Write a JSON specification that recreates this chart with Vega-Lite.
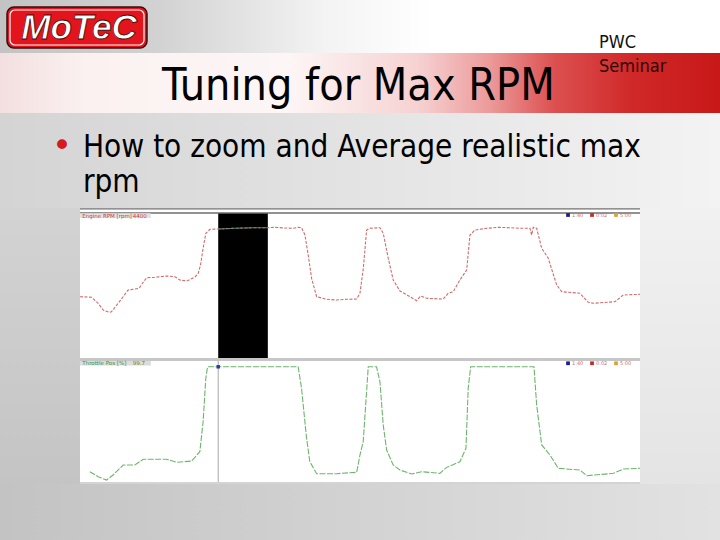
{
  "$schema": "https://vega.github.io/schema/vega-lite/v6.json",
  "padding": 0,
  "spacing": 0,
  "background": "#d0d0d0",
  "config": {
    "view": {"stroke": null},
    "concat": {"spacing": 0},
    "axis": {"labels": false, "ticks": false, "domain": false, "grid": true, "gridColor": "#d9d9d9", "gridWidth": 1, "minExtent": 0, "maxExtent": 0}
  },
  "datasets": {
    "rpm": [
      {"t": 99.1, "rpm": 2890}, {"t": 100.09, "rpm": 2876}, {"t": 100.65, "rpm": 2740}, {"t": 101.08, "rpm": 2588},
      {"t": 101.59, "rpm": 2536}, {"t": 101.79, "rpm": 2549}, {"t": 102.36, "rpm": 2740}, {"t": 102.79, "rpm": 2889},
      {"t": 103.21, "rpm": 3041}, {"t": 103.79, "rpm": 3064}, {"t": 104.15, "rpm": 3080}, {"t": 104.5, "rpm": 3216},
      {"t": 104.79, "rpm": 3320}, {"t": 105.5, "rpm": 3329}, {"t": 106.5, "rpm": 3359}, {"t": 107.21, "rpm": 3343},
      {"t": 107.63, "rpm": 3268}, {"t": 108.21, "rpm": 3245}, {"t": 108.91, "rpm": 3329}, {"t": 109.2, "rpm": 3420},
      {"t": 109.4, "rpm": 3608}, {"t": 109.62, "rpm": 3987}, {"t": 109.85, "rpm": 4327}, {"t": 110.2, "rpm": 4417},
      {"t": 110.91, "rpm": 4424}, {"t": 111.48, "rpm": 4431}, {"t": 112.33, "rpm": 4440}, {"t": 113.19, "rpm": 4447},
      {"t": 114.04, "rpm": 4453}, {"t": 115.15, "rpm": 4453}, {"t": 115.75, "rpm": 4462}, {"t": 116.61, "rpm": 4447},
      {"t": 117.32, "rpm": 4440}, {"t": 117.72, "rpm": 4462}, {"t": 118.03, "rpm": 4453}, {"t": 118.32, "rpm": 4288},
      {"t": 118.6, "rpm": 3835}, {"t": 118.89, "rpm": 3307}, {"t": 119.32, "rpm": 2889}, {"t": 120.17, "rpm": 2831},
      {"t": 121.03, "rpm": 2815}, {"t": 121.88, "rpm": 2831}, {"t": 122.74, "rpm": 2837}, {"t": 123.02, "rpm": 2967},
      {"t": 123.31, "rpm": 3533}, {"t": 123.59, "rpm": 4401}, {"t": 123.87, "rpm": 4440}, {"t": 124.73, "rpm": 4453},
      {"t": 125.01, "rpm": 4327}, {"t": 125.44, "rpm": 3760}, {"t": 125.86, "rpm": 3268}, {"t": 126.44, "rpm": 3019},
      {"t": 127.15, "rpm": 2912}, {"t": 127.86, "rpm": 2799}, {"t": 128.21, "rpm": 2905}, {"t": 128.72, "rpm": 2853},
      {"t": 130.14, "rpm": 2837}, {"t": 130.56, "rpm": 2967}, {"t": 130.99, "rpm": 3003}, {"t": 131.56, "rpm": 3268},
      {"t": 132.14, "rpm": 3495}, {"t": 132.42, "rpm": 4288}, {"t": 132.85, "rpm": 4401}, {"t": 133.85, "rpm": 4440},
      {"t": 134.81, "rpm": 4462}, {"t": 135.84, "rpm": 4453}, {"t": 136.7, "rpm": 4440}, {"t": 137.55, "rpm": 4440},
      {"t": 137.69, "rpm": 4288}, {"t": 137.83, "rpm": 4462}, {"t": 138.12, "rpm": 4440}, {"t": 138.55, "rpm": 3987},
      {"t": 139.11, "rpm": 3760}, {"t": 139.83, "rpm": 3155}, {"t": 140.26, "rpm": 3003}, {"t": 141.82, "rpm": 2967},
      {"t": 142.53, "rpm": 2763}, {"t": 142.96, "rpm": 2740}, {"t": 144.81, "rpm": 2776}, {"t": 145.52, "rpm": 2928},
      {"t": 146.95, "rpm": 2944}
    ],
    "throttle": [
      {"t": 99.94, "thr": 10.5}, {"t": 100.65, "thr": 6.2}, {"t": 101.37, "thr": 3.4}, {"t": 101.93, "thr": 7.7},
      {"t": 102.79, "thr": 16.2}, {"t": 103.79, "thr": 16.2}, {"t": 104.5, "thr": 21.1}, {"t": 106.5, "thr": 21.1},
      {"t": 107.35, "thr": 18.5}, {"t": 108.63, "thr": 19.6}, {"t": 109.34, "thr": 27.6}, {"t": 109.62, "thr": 53.2},
      {"t": 109.85, "thr": 90.2}, {"t": 110.0, "thr": 100}, {"t": 117.74, "thr": 100}, {"t": 118.03, "thr": 81.7},
      {"t": 118.46, "thr": 39.0}, {"t": 118.74, "thr": 19.0}, {"t": 119.32, "thr": 8.8}, {"t": 121.03, "thr": 8.8},
      {"t": 122.74, "thr": 10.0}, {"t": 123.02, "thr": 24.7}, {"t": 123.3, "thr": 36.1}, {"t": 123.73, "thr": 100},
      {"t": 124.44, "thr": 100}, {"t": 124.73, "thr": 87.3}, {"t": 125.01, "thr": 50.3}, {"t": 125.3, "thr": 29.0},
      {"t": 125.86, "thr": 16.2}, {"t": 126.44, "thr": 11.9}, {"t": 127.44, "thr": 8.5}, {"t": 128.29, "thr": 10.5},
      {"t": 129.85, "thr": 9.1}, {"t": 130.43, "thr": 14.2}, {"t": 131.56, "thr": 19.0}, {"t": 132.08, "thr": 30.5},
      {"t": 132.27, "thr": 81.7}, {"t": 132.48, "thr": 100}, {"t": 137.89, "thr": 100}, {"t": 138.12, "thr": 67.4},
      {"t": 138.55, "thr": 33.3}, {"t": 139.26, "thr": 24.7}, {"t": 139.97, "thr": 13.4}, {"t": 141.82, "thr": 11.9},
      {"t": 142.4, "thr": 7.1}, {"t": 144.67, "thr": 9.1}, {"t": 145.52, "thr": 12.8}, {"t": 146.95, "thr": 13.4}
    ],
    "legend": [
      {"k": "a", "lab": "1:40", "t": 140.8},
      {"k": "b", "lab": "0:02", "t": 142.85},
      {"k": "c", "lab": "5:00", "t": 144.9}
    ]
  },
  "vconcat": [
    {
      "width": 720, "height": 53,
      "data": {"values": [{"logo": "MoTeC", "tag": "PWC"}]},
      "layer": [
        {"mark": {"type": "rect", "stroke": null, "fill": {"gradient": "linear", "x1": 0, "y1": 0, "x2": 1, "y2": 0, "stops": [{"offset": 0, "color": "#c3c3c3"}, {"offset": 0.22, "color": "#d2d2d2"}, {"offset": 0.45, "color": "#f3f3f3"}, {"offset": 0.6, "color": "#ffffff"}, {"offset": 1, "color": "#ffffff"}]}}, "encoding": {}},
        {"mark": {"type": "rect", "cornerRadius": 7, "fill": "#e3141b", "stroke": "#3a0c0c", "strokeWidth": 1.5}, "encoding": {"x": {"value": 7}, "x2": {"value": 147}, "y": {"value": 7}, "y2": {"value": 48}}},
        {"mark": {"type": "rect", "cornerRadius": 5, "filled": false, "stroke": "#ffffff", "strokeWidth": 1.2}, "encoding": {"x": {"value": 10}, "x2": {"value": 144}, "y": {"value": 10}, "y2": {"value": 45}}},
        {"mark": {"type": "text", "font": "Liberation Sans", "fontSize": 35, "fontStyle": "italic", "fontWeight": "bold", "fill": "#ffffff", "stroke": "#4a0808", "strokeWidth": 0.8, "align": "center", "baseline": "alphabetic"}, "encoding": {"x": {"value": 79}, "y": {"value": 39}, "text": {"field": "logo"}}},
        {"mark": {"type": "text", "font": "DejaVu Sans Condensed, DejaVu Sans", "fontSize": 18, "color": "#111111", "align": "left", "baseline": "alphabetic"}, "encoding": {"x": {"value": 599}, "y": {"value": 48}, "text": {"field": "tag"}}}
      ]
    },
    {
      "width": 720, "height": 60,
      "data": {"values": [{"title": "Tuning for Max RPM", "tag": "Seminar"}]},
      "layer": [
        {"mark": {"type": "rect", "stroke": null, "fill": {"gradient": "linear", "x1": 0, "y1": 0, "x2": 1, "y2": 0, "stops": [{"offset": 0, "color": "#f3dfdf"}, {"offset": 0.12, "color": "#fbf1f1"}, {"offset": 0.4, "color": "#fdf6f6"}, {"offset": 0.58, "color": "#f6d2d2"}, {"offset": 0.68, "color": "#ec9a9a"}, {"offset": 0.77, "color": "#dc5050"}, {"offset": 0.88, "color": "#d02828"}, {"offset": 1, "color": "#c81818"}]}}, "encoding": {}},
        {"mark": {"type": "text", "font": "DejaVu Sans Condensed, DejaVu Sans", "fontSize": 44.5, "color": "#000000", "align": "left", "baseline": "alphabetic"}, "encoding": {"x": {"value": 162}, "y": {"value": 47}, "text": {"field": "title"}}},
        {"mark": {"type": "text", "font": "DejaVu Sans Condensed, DejaVu Sans", "fontSize": 18, "color": "#2a0808", "align": "left", "baseline": "alphabetic"}, "encoding": {"x": {"value": 599}, "y": {"value": 19}, "text": {"field": "tag"}}}
      ]
    },
    {
      "width": 720, "height": 95,
      "data": {"values": [{"b": "•", "l1": "How to zoom and Average realistic max", "l2": "rpm"}]},
      "layer": [
        {"mark": {"type": "rect", "stroke": null, "fill": {"gradient": "linear", "x1": 0, "y1": 0, "x2": 1, "y2": 0, "stops": [{"offset": 0, "color": "#d4d4d4"}, {"offset": 1, "color": "#f3f3f3"}]}}, "encoding": {}},
        {"mark": {"type": "text", "font": "DejaVu Sans", "fontSize": 34, "color": "#d41c1c", "align": "left", "baseline": "alphabetic"}, "encoding": {"x": {"value": 52}, "y": {"value": 44}, "text": {"field": "b"}}},
        {"mark": {"type": "text", "font": "DejaVu Sans Condensed, DejaVu Sans", "fontSize": 31.2, "color": "#000000", "align": "left", "baseline": "alphabetic"}, "encoding": {"x": {"value": 83}, "y": {"value": 44}, "text": {"field": "l1"}}},
        {"mark": {"type": "text", "font": "DejaVu Sans Condensed, DejaVu Sans", "fontSize": 31.2, "color": "#000000", "align": "left", "baseline": "alphabetic"}, "encoding": {"x": {"value": 83}, "y": {"value": 79}, "text": {"field": "l2"}}}
      ]
    },
    {
      "spacing": 0,
      "bounds": "flush",
      "hconcat": [
        {"width": 80, "height": 150, "data": {"values": [{}]}, "mark": {"type": "rect", "stroke": null, "fill": {"gradient": "linear", "x1": 0, "y1": 0, "x2": 0, "y2": 1, "stops": [{"offset": 0, "color": "#d3d3d3"}, {"offset": 1, "color": "#cbcbcb"}]}}, "encoding": {}},
        {
          "width": 560, "height": 150,
          "view": {"fill": "#ffffff", "stroke": null},
          "layer": [
            {
              "data": {"values": [{"start": 110.91, "end": 115.15}]},
              "mark": {"type": "rect", "color": "#000000", "clip": true},
              "encoding": {
                "x": {"field": "start", "type": "quantitative", "scale": {"domain": [99.1, 146.95], "nice": false, "zero": false}, "axis": null},
                "x2": {"field": "end"},
                "y": {"datum": 4787, "scale": {"domain": [1500, 4900], "nice": false, "zero": false}, "axis": null},
                "y2": {"datum": 1500}
              }
            },
            {
              "data": {"name": "rpm"},
              "mark": {"type": "line", "color": "#d46a6a", "strokeWidth": 1.1, "strokeDash": [3, 1.5], "clip": true},
              "encoding": {
                "x": {"field": "t", "type": "quantitative", "scale": {"domain": [99.1, 146.95], "nice": false, "zero": false}, "axis": {"title": null, "values": [100, 102, 104, 106, 108, 110, 112, 114, 116, 118, 120, 122, 124, 126, 128, 130, 132, 134, 136, 138, 140, 142, 144, 146]}},
                "y": {"field": "rpm", "type": "quantitative", "scale": {"domain": [1500, 4900], "nice": false, "zero": false}, "axis": {"title": null, "values": [1798.8, 2097.6, 2396.4, 2695.2, 2994, 3292.8, 3591.6, 3890.4, 4189.2, 4488]}}
              }
            },
            {
              "data": {"name": "rpm"},
              "transform": [{"filter": "datum.t >= 110.91 && datum.t <= 115.15"}],
              "mark": {"type": "line", "color": "#4a9a88", "strokeWidth": 1.1, "strokeDash": [3, 1.5], "clip": true},
              "encoding": {
                "x": {"field": "t", "type": "quantitative", "scale": {"domain": [99.1, 146.95], "nice": false, "zero": false}, "axis": null},
                "y": {"field": "rpm", "type": "quantitative", "scale": {"domain": [1500, 4900], "nice": false, "zero": false}, "axis": null}
              }
            },
            {
              "data": {"values": [{"edge": 4882}, {"edge": 4787}]},
              "mark": {"type": "rule", "color": "#6e6e6e", "strokeWidth": 1.3, "clip": true},
              "encoding": {"y": {"field": "edge", "type": "quantitative", "axis": null}}
            },
            {
              "data": {"values": [{}]},
              "mark": {"type": "rect", "color": "#e2e2e2", "clip": true},
              "encoding": {"x": {"datum": 99.1, "axis": null}, "x2": {"datum": 105.15}, "y": {"datum": 4780, "axis": null}, "y2": {"datum": 4673}}
            },
            {
              "data": {"values": [{"name": "Engine RPM [rpm]", "val": "4400"}]},
              "layer": [
                {"mark": {"type": "text", "fontSize": 5.5, "color": "#d03a3a", "align": "left", "baseline": "middle", "font": "DejaVu Sans"}, "encoding": {"x": {"datum": 99.3, "axis": null}, "y": {"datum": 4728, "axis": null}, "text": {"field": "name"}}},
                {"mark": {"type": "text", "fontSize": 5.5, "color": "#d03a3a", "align": "left", "baseline": "middle", "font": "DejaVu Sans"}, "encoding": {"x": {"datum": 103.6, "axis": null}, "y": {"datum": 4728, "axis": null}, "text": {"field": "val"}}}
              ]
            },
            {
              "data": {"name": "legend"},
              "layer": [
                {"mark": {"type": "point", "shape": "square", "filled": true, "size": 14, "opacity": 1}, "encoding": {"x": {"field": "t", "type": "quantitative", "axis": null}, "y": {"datum": 4741, "axis": null}, "color": {"field": "k", "type": "nominal", "legend": null, "scale": {"domain": ["a", "b", "c"], "range": ["#1c1c8c", "#c82828", "#e0a030"]}}}},
                {"mark": {"type": "text", "fontSize": 5, "color": "#c07070", "align": "left", "baseline": "middle", "dx": 4, "font": "DejaVu Sans"}, "encoding": {"x": {"field": "t", "type": "quantitative", "axis": null}, "y": {"datum": 4741, "axis": null}, "text": {"field": "lab"}}}
              ]
            }
          ]
        },
        {"width": 80, "height": 150, "data": {"values": [{}]}, "mark": {"type": "rect", "stroke": null, "fill": {"gradient": "linear", "x1": 0, "y1": 0, "x2": 0, "y2": 1, "stops": [{"offset": 0, "color": "#f1f1f1"}, {"offset": 1, "color": "#eaeaea"}]}}, "encoding": {}}
      ]
    },
    {
      "spacing": 0,
      "bounds": "flush",
      "hconcat": [
        {"width": 80, "height": 126, "data": {"values": [{}]}, "mark": {"type": "rect", "stroke": null, "fill": {"gradient": "linear", "x1": 0, "y1": 0, "x2": 0, "y2": 1, "stops": [{"offset": 0, "color": "#cbcbcb"}, {"offset": 1, "color": "#c4c4c4"}]}}, "encoding": {}},
        {
          "width": 560, "height": 126,
          "view": {"fill": "#ffffff", "stroke": null},
          "layer": [
            {
              "data": {"name": "throttle"},
              "mark": {"type": "line", "color": "#6db56d", "strokeWidth": 1.1, "strokeDash": [6, 1.5], "clip": true},
              "encoding": {
                "x": {"field": "t", "type": "quantitative", "scale": {"domain": [99.1, 146.95], "nice": false, "zero": false}, "axis": {"title": null, "values": [100, 102, 104, 106, 108, 110, 112, 114, 116, 118, 120, 122, 124, 126, 128, 130, 132, 134, 136, 138, 140, 142, 144, 146]}},
                "y": {"field": "thr", "type": "quantitative", "scale": {"domain": [0, 107.5], "nice": false, "zero": false}, "axis": {"title": null, "values": [9.09, 18.18, 27.27, 36.36, 45.45, 54.55, 63.64, 72.73, 81.82, 90.91, 100]}}
              }
            },
            {
              "data": {"values": [{}]},
              "mark": {"type": "rule", "color": "#a8a8a8", "strokeWidth": 1, "clip": true},
              "encoding": {"x": {"datum": 110.91, "axis": null}}
            },
            {
              "data": {"values": [{"edge": 106.2}]},
              "mark": {"type": "rule", "color": "#c6c6c6", "strokeWidth": 3, "clip": true},
              "encoding": {"y": {"field": "edge", "type": "quantitative", "axis": null}}
            },
            {
              "data": {"values": [{"edge": 0.85}]},
              "mark": {"type": "rule", "color": "#d4d4d4", "strokeWidth": 2, "clip": true},
              "encoding": {"y": {"field": "edge", "type": "quantitative", "axis": null}}
            },
            {
              "data": {"values": [{}]},
              "mark": {"type": "point", "shape": "square", "filled": true, "size": 12, "color": "#2a3aa8", "opacity": 1},
              "encoding": {"x": {"datum": 110.91, "axis": null}, "y": {"datum": 100, "axis": null}}
            },
            {
              "data": {"values": [{}]},
              "mark": {"type": "rect", "color": "#dcdcdc", "clip": true},
              "encoding": {"x": {"datum": 99.1, "axis": null}, "x2": {"datum": 105.15}, "y": {"datum": 104.9, "axis": null}, "y2": {"datum": 101.2}}
            },
            {
              "data": {"values": [{"name": "Throttle Pos [%]", "val": "99.7"}]},
              "layer": [
                {"mark": {"type": "text", "fontSize": 5.5, "color": "#3c963c", "align": "left", "baseline": "middle", "font": "DejaVu Sans"}, "encoding": {"x": {"datum": 99.3, "axis": null}, "y": {"datum": 103, "axis": null}, "text": {"field": "name"}}},
                {"mark": {"type": "text", "fontSize": 5.5, "color": "#3c963c", "align": "left", "baseline": "middle", "font": "DejaVu Sans"}, "encoding": {"x": {"datum": 103.6, "axis": null}, "y": {"datum": 103, "axis": null}, "text": {"field": "val"}}}
              ]
            },
            {
              "data": {"name": "legend"},
              "layer": [
                {"mark": {"type": "point", "shape": "square", "filled": true, "size": 14, "opacity": 1}, "encoding": {"x": {"field": "t", "type": "quantitative", "axis": null}, "y": {"datum": 103, "axis": null}, "color": {"field": "k", "type": "nominal", "legend": null, "scale": {"domain": ["a", "b", "c"], "range": ["#1c1c8c", "#c82828", "#e0a030"]}}}},
                {"mark": {"type": "text", "fontSize": 5, "color": "#c07070", "align": "left", "baseline": "middle", "dx": 4, "font": "DejaVu Sans"}, "encoding": {"x": {"field": "t", "type": "quantitative", "axis": null}, "y": {"datum": 103, "axis": null}, "text": {"field": "lab"}}}
              ]
            }
          ]
        },
        {"width": 80, "height": 126, "data": {"values": [{}]}, "mark": {"type": "rect", "stroke": null, "fill": {"gradient": "linear", "x1": 0, "y1": 0, "x2": 0, "y2": 1, "stops": [{"offset": 0, "color": "#eaeaea"}, {"offset": 1, "color": "#e4e4e4"}]}}, "encoding": {}}
      ]
    },
    {
      "width": 720, "height": 56,
      "data": {"values": [{}]},
      "mark": {"type": "rect", "stroke": null, "fill": {"gradient": "linear", "x1": 0, "y1": 0, "x2": 1, "y2": 0, "stops": [{"offset": 0, "color": "#c3c3c3"}, {"offset": 1, "color": "#e2e2e2"}]}},
      "encoding": {}
    }
  ]
}
